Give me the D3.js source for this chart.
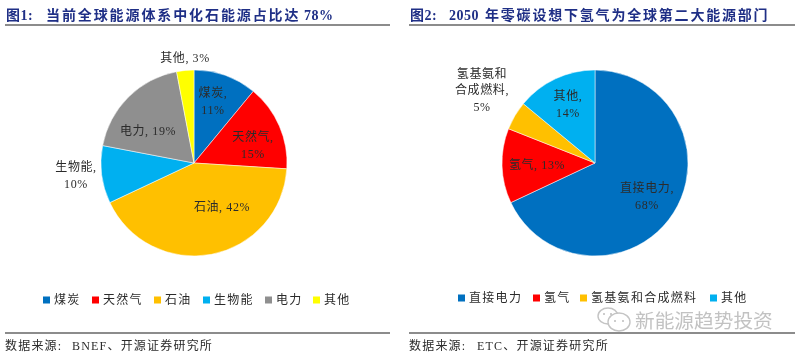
<!DOCTYPE html>
<html>
<head>
<meta charset="utf-8">
<script src="https://cdnjs.cloudflare.com/ajax/libs/d3/7.8.5/d3.min.js"></script>
<style>
  html, body { margin: 0; padding: 0; background: #fff; }
  svg { display: block; }
  text { font-family: "Liberation Serif", "Noto Sans CJK SC", serif; }
</style>
</head>
<body>
<svg id="chart" width="800" height="356"></svg>
<script>
// chart 1 data
const categories1 = ["煤炭", "天然气", "石油", "生物能", "电力", "其他"];
const values1 = [11, 15, 42, 10, 19, 3];
const colors1 = ["#0070c0", "#ff0000", "#ffc000", "#00b0f0", "#8f8f8f", "#ffff00"];
const labels1 = [["煤炭,", "11%"], ["天然气,", "15%"], ["石油, 42%"], ["生物能,", "10%"], ["电力, 19%"], ["其他, 3%"]];

// chart 2 data
const categories2 = ["直接电力", "氢气", "氢基氨和合成燃料", "其他"];
const values2 = [68, 13, 5, 14];
const colors2 = ["#0070c0", "#ff0000", "#ffc000", "#00b0f0"];
const labels2 = [["直接电力,", "68%"], ["氢气, 13%"], ["氢基氨和", "合成燃料,", "5%"], ["其他,", "14%"]];

// label centres relative to the pie centre
const labelOffsets1 = [[19, -62], [59, -18], [28, 44], [-118, 12], [-46, -32], [-9, -105]];
const labelOffsets2 = [[52, 33], [-58, 2], [-113, -73], [-27, -59]];

// legend layout, swatch x for each entry
const legendX1 = [43, 92, 154, 203, 265, 313];
const legendX2 = [458, 533, 580, 710];

const navy = "#1f2f86";
const ink = "#2b2b2b";
const radius = 93;

const svg = d3.select("#chart");
const root = svg.append("g").style("filter", "blur(0.5px)");

function drawPie(cx, cy, values, colors, labels, offsets) {
  const pie = d3.pie().sort(null).value(d => d);
  const arc = d3.arc().innerRadius(0).outerRadius(radius);
  const g = root.append("g").attr("transform", `translate(${cx},${cy})`);

  g.selectAll("path")
    .data(pie(values))
    .enter()
    .append("path")
    .attr("d", arc)
    .attr("fill", (d, i) => colors[i])
    .attr("stroke", "#fff")
    .attr("stroke-width", 0.5);

  labels.forEach((lines, i) => {
    const lineH = 16.5;
    const top = offsets[i][1] - (lines.length - 1) * lineH / 2;
    lines.forEach((line, j) => {
      g.append("text")
        .attr("x", offsets[i][0])
        .attr("y", top + j * lineH)
        .attr("dy", "0.36em")
        .attr("text-anchor", "middle")
        .attr("font-size", 12)
        .attr("letter-spacing", 0.6)
        .attr("fill", ink)
        .text(line);
    });
  });
}

function drawLegend(names, colors, xs, y) {
  const item = root.append("g").selectAll("g")
    .data(names)
    .enter()
    .append("g")
    .attr("transform", (d, i) => `translate(${xs[i]},${y})`);
  item.append("rect")
    .attr("y", -3.5)
    .attr("width", 7)
    .attr("height", 7)
    .attr("fill", (d, i) => colors[i]);
  item.append("text")
    .attr("x", 11)
    .attr("dy", "0.36em")
    .attr("font-size", 12)
    .attr("letter-spacing", 1.3)
    .attr("fill", ink)
    .text(d => d);
}

function drawTitle(parts, y) {
  parts.forEach(p => {
    root.append("text")
      .attr("x", p[1])
      .attr("y", y)
      .attr("font-size", 14)
      .attr("font-weight", 700)
      .attr("letter-spacing", p[2])
      .attr("fill", navy)
      .text(p[0]);
  });
}

function drawRule(x1, x2, y) {
  root.append("line")
    .attr("x1", x1).attr("x2", x2)
    .attr("y1", y).attr("y2", y)
    .attr("stroke", "#666")
    .attr("stroke-width", 1.3);
}

function drawSource(x, head, rest, restX) {
  const y = 350;
  root.append("text").attr("x", x).attr("y", y)
    .attr("font-size", 12).attr("letter-spacing", 1.2).attr("fill", ink).text(head);
  root.append("text").attr("x", restX).attr("y", y)
    .attr("font-size", 12).attr("letter-spacing", 1.2).attr("fill", ink).text(rest);
}

// headers
drawTitle([["图1:", 6, 0.5], ["当前全球能源体系中化石能源占比达", 46, 1.9], ["78%", 304, 0.5]], 20);
drawTitle([["图2:", 410, 0.5], ["2050", 449, 0.5], ["年零碳设想下氢气为全球第二大能源部门", 485, 1.8]], 20);
drawRule(5, 390, 25);
drawRule(409, 795, 25);

// pies
drawPie(194, 163, values1, colors1, labels1, labelOffsets1);
drawPie(595, 163, values2, colors2, labels2, labelOffsets2);

// legends
drawLegend(categories1, colors1, legendX1, 300);
drawLegend(categories2, colors2, legendX2, 298);

// watermark
const mark = root.append("g").attr("fill", "none").attr("stroke", "#c4c4c4").attr("stroke-width", 1.4);
mark.append("ellipse").attr("cx", 608).attr("cy", 316).attr("rx", 10).attr("ry", 8).attr("fill", "#fff");
mark.append("ellipse").attr("cx", 619).attr("cy", 322).attr("rx", 11).attr("ry", 9).attr("fill", "#fff");
// little eyes on the two chat bubbles
[[604, 314], [611, 314], [615, 321], [623, 321]].forEach(p => {
  root.append("circle").attr("cx", p[0]).attr("cy", p[1]).attr("r", 1).attr("fill", "#bdbdbd");
});
root.append("text")
  .attr("x", 635).attr("y", 328)
  .attr("font-size", 19.7)
  .attr("fill", "#c2c2c2")
  .style("font-family", '"Noto Sans CJK SC", sans-serif')
  .text("新能源趋势投资");

// footers
drawRule(5, 390, 333);
drawRule(409, 795, 333);
drawSource(5, "数据来源:", "BNEF、开源证券研究所", 72);
drawSource(409, "数据来源:", "ETC、开源证券研究所", 477);
</script>
</body>
</html>
